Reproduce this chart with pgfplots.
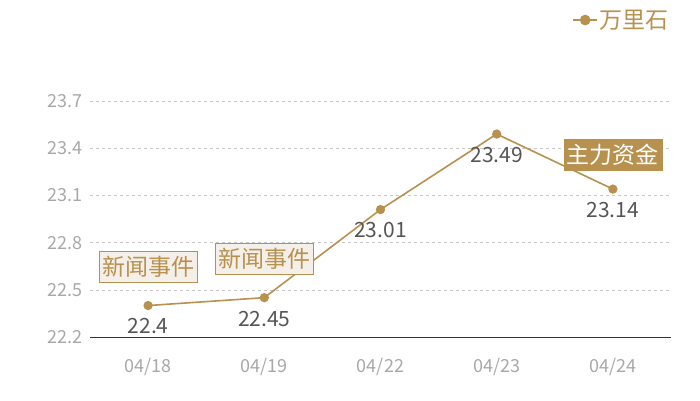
\documentclass[border=0pt]{standalone}
\usepackage{pgfplots}
\pgfplotsset{compat=1.18}
\usepackage{fontspec}
\setmainfont{Noto Sans CJK SC}
\definecolor{gold}{HTML}{B8914F}
\definecolor{tickgray}{HTML}{A8A8A8}
\definecolor{labelgray}{HTML}{555555}
\definecolor{beige}{HTML}{F4EFE8}
\begin{document}
\begin{tikzpicture}[
    annot/.style={draw=gold, line width=0.8pt, inner xsep=3pt, inner ysep=5pt,
        font=\fontsize{23}{23}\selectfont}]
\begin{axis}[
    at={(90pt,63pt)}, anchor=south west,
    scale only axis, width=581pt, height=236pt,
    xmin=-0.5, xmax=4.5, ymin=22.2, ymax=23.7,
    xtick=data,
    xticklabels={04/18,04/19,04/22,04/23,04/24},
    ytick={22.2,22.5,22.8,23.1,23.4,23.7},
    /pgf/number format/fixed,
    /pgf/number format/fixed zerofill,
    /pgf/number format/precision=1,
    /pgf/number format/assume math mode=true,
    ticklabel style={font=\fontsize{18}{18}\selectfont, text=tickgray},
    xticklabel style={yshift=-18pt},
    yticklabel style={xshift=-4pt},
    major tick length=0pt,
    axis x line*=bottom, axis y line*=left,
    y axis line style={draw=none},
    x axis line style={draw=black!80, line width=0.8pt},
    ymajorgrids, major grid style={draw=black!22, dashed, line width=0.5pt},
    clip=false,
    legend style={at={(1.0,1.343)}, anchor=east, draw=none, fill=none,
        font=\fontsize{23}{23}\selectfont, text=gold,
        legend cell align=left, inner sep=0pt},
    legend image code/.code={
        \draw[gold, line width=1.2pt] (0pt,0pt) -- (24pt,0pt);
        \fill[gold] (12pt,0pt) circle (4.5pt);},
]
\addplot[gold, line width=1.6pt, mark=*, mark size=3.8pt,
    mark options={fill=gold, draw=gold},
    nodes near coords,
    every node near coord/.append style={anchor=north, yshift=-9pt,
        font=\fontsize{21}{21}\selectfont, text=labelgray},
    point meta=explicit symbolic]
    coordinates {
    (0,22.40) [22.4]
    (1,22.45) [22.45]
    (2,23.01) [23.01]
    (3,23.49) [23.49]
    (4,23.14) [23.14]
};
\addlegendentry{万里石}
\node[annot, fill=beige, text=gold] at (axis cs:0,22.645) {新闻事件};
\node[annot, fill=beige, text=gold] at (axis cs:1,22.696) {新闻事件};
\node[annot, fill=gold, text=white] at (axis cs:4,23.357) {主力资金};
\end{axis}
\pgfresetboundingbox
\path (0pt,0pt) rectangle (700pt,400pt);
\end{tikzpicture}
\end{document}
